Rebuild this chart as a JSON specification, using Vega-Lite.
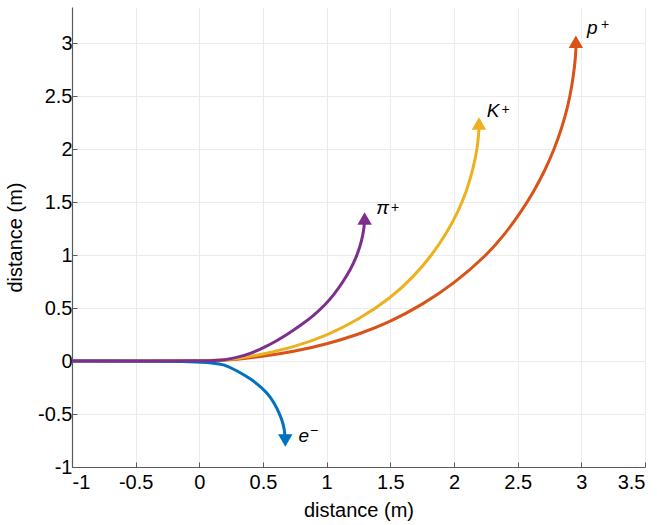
{
  "$schema": "https://vega.github.io/schema/vega-lite/v6.json",
  "width": 573,
  "height": 460,
  "autosize": "none",
  "padding": {"left": 72, "top": 7, "right": 12, "bottom": 58},
  "background": "white",
  "config": {
    "view": {"stroke": null},
    "axis": {
      "domainColor": "#5a5a5a",
      "domainWidth": 1.2,
      "tickColor": "#5a5a5a",
      "tickSize": -5,
      "gridColor": "#ebebeb",
      "gridWidth": 1,
      "labelFont": "Liberation Sans",
      "labelFontSize": 20,
      "labelColor": "#000000",
      "titleFont": "Liberation Sans",
      "titleFontSize": 20,
      "titleFontWeight": "normal",
      "titleColor": "#000000"
    }
  },
  "datasets": {
    "tracks": [
      {"series": "p", "i": 0, "x": -1, "y": 0},
      {"series": "p", "i": 1, "x": 0.1, "y": 0},
      {"series": "p", "i": 2, "x": 0.3, "y": 0.015},
      {"series": "p", "i": 3, "x": 0.5, "y": 0.045},
      {"series": "p", "i": 4, "x": 0.75, "y": 0.09},
      {"series": "p", "i": 5, "x": 1.0, "y": 0.16},
      {"series": "p", "i": 6, "x": 1.25, "y": 0.25},
      {"series": "p", "i": 7, "x": 1.5, "y": 0.37},
      {"series": "p", "i": 8, "x": 1.75, "y": 0.53},
      {"series": "p", "i": 9, "x": 2.0, "y": 0.73},
      {"series": "p", "i": 10, "x": 2.259, "y": 1.0},
      {"series": "p", "i": 11, "x": 2.401, "y": 1.2},
      {"series": "p", "i": 12, "x": 2.523, "y": 1.4},
      {"series": "p", "i": 13, "x": 2.627, "y": 1.6},
      {"series": "p", "i": 14, "x": 2.715, "y": 1.8},
      {"series": "p", "i": 15, "x": 2.788, "y": 2.0},
      {"series": "p", "i": 16, "x": 2.847, "y": 2.2},
      {"series": "p", "i": 17, "x": 2.894, "y": 2.4},
      {"series": "p", "i": 18, "x": 2.927, "y": 2.6},
      {"series": "p", "i": 19, "x": 2.949, "y": 2.8},
      {"series": "p", "i": 20, "x": 2.956, "y": 2.9},
      {"series": "p", "i": 21, "x": 2.959, "y": 3.0},
      {"series": "K", "i": 0, "x": -1, "y": 0},
      {"series": "K", "i": 1, "x": 0.1, "y": 0},
      {"series": "K", "i": 2, "x": 0.3, "y": 0.02},
      {"series": "K", "i": 3, "x": 0.5, "y": 0.065},
      {"series": "K", "i": 4, "x": 0.75, "y": 0.135},
      {"series": "K", "i": 5, "x": 1.0, "y": 0.24},
      {"series": "K", "i": 6, "x": 1.25, "y": 0.39},
      {"series": "K", "i": 7, "x": 1.5, "y": 0.59},
      {"series": "K", "i": 8, "x": 1.687, "y": 0.8},
      {"series": "K", "i": 9, "x": 1.827, "y": 1.0},
      {"series": "K", "i": 10, "x": 1.939, "y": 1.2},
      {"series": "K", "i": 11, "x": 2.029, "y": 1.4},
      {"series": "K", "i": 12, "x": 2.098, "y": 1.6},
      {"series": "K", "i": 13, "x": 2.148, "y": 1.8},
      {"series": "K", "i": 14, "x": 2.182, "y": 2.0},
      {"series": "K", "i": 15, "x": 2.195, "y": 2.15},
      {"series": "K", "i": 16, "x": 2.198, "y": 2.24},
      {"series": "e", "i": 0, "x": -1, "y": 0},
      {"series": "e", "i": 1, "x": 0.08, "y": 0},
      {"series": "e", "i": 2, "x": 0.2, "y": -0.035},
      {"series": "e", "i": 3, "x": 0.3, "y": -0.095},
      {"series": "e", "i": 4, "x": 0.4, "y": -0.165},
      {"series": "e", "i": 5, "x": 0.494, "y": -0.254},
      {"series": "e", "i": 6, "x": 0.56, "y": -0.34},
      {"series": "e", "i": 7, "x": 0.61, "y": -0.445},
      {"series": "e", "i": 8, "x": 0.648, "y": -0.55},
      {"series": "e", "i": 9, "x": 0.668, "y": -0.64},
      {"series": "e", "i": 10, "x": 0.675, "y": -0.74},
      {"series": "pi", "i": 0, "x": -1, "y": 0},
      {"series": "pi", "i": 1, "x": 0.1, "y": 0},
      {"series": "pi", "i": 2, "x": 0.2, "y": 0.01},
      {"series": "pi", "i": 3, "x": 0.3, "y": 0.035},
      {"series": "pi", "i": 4, "x": 0.4, "y": 0.07},
      {"series": "pi", "i": 5, "x": 0.5, "y": 0.122},
      {"series": "pi", "i": 6, "x": 0.6, "y": 0.185},
      {"series": "pi", "i": 7, "x": 0.7, "y": 0.258},
      {"series": "pi", "i": 8, "x": 0.8, "y": 0.34},
      {"series": "pi", "i": 9, "x": 0.9, "y": 0.432},
      {"series": "pi", "i": 10, "x": 0.98, "y": 0.52},
      {"series": "pi", "i": 11, "x": 1.06, "y": 0.63},
      {"series": "pi", "i": 12, "x": 1.13, "y": 0.75},
      {"series": "pi", "i": 13, "x": 1.19, "y": 0.87},
      {"series": "pi", "i": 14, "x": 1.232, "y": 0.98},
      {"series": "pi", "i": 15, "x": 1.262, "y": 1.08},
      {"series": "pi", "i": 16, "x": 1.283, "y": 1.18},
      {"series": "pi", "i": 17, "x": 1.295, "y": 1.27},
      {"series": "pi", "i": 18, "x": 1.299, "y": 1.34}
    ],
    "heads": [
      {"series": "p", "x": 2.957, "y": 3.012},
      {"series": "K", "x": 2.196, "y": 2.241},
      {"series": "e", "x": 0.675, "y": -0.75},
      {"series": "pi", "x": 1.298, "y": 1.344}
    ],
    "labels": [
      {"label": "p", "x": 3.045, "y": 3.082},
      {"label": "K", "x": 2.257, "y": 2.302},
      {"label": "e", "x": 0.779, "y": -0.764},
      {"label": "π", "x": 1.389, "y": 1.384}
    ],
    "supers": [
      {"label": "+", "x": 3.155, "y": 3.13},
      {"label": "+", "x": 2.373, "y": 2.327},
      {"label": "−", "x": 0.87, "y": -0.696},
      {"label": "+", "x": 1.505, "y": 1.406}
    ]
  },
  "layer": [
    {
      "data": {"name": "tracks"},
      "mark": {"type": "line", "strokeWidth": 3, "strokeCap": "butt", "interpolate": "basis"},
      "encoding": {
        "x": {
          "field": "x", "type": "quantitative",
          "scale": {"domain": [-1, 3.5], "nice": false, "zero": false},
          "axis": {
            "values": [-1, -0.5, 0, 0.5, 1, 1.5, 2, 2.5, 3, 3.5],
            "labelExpr": "datum.value < 0 ? '-' + format(-datum.value, '~g') : format(datum.value, '~g')",
            "labelPadding": 10,
            "titlePadding": 8
          },
          "title": "distance (m)"
        },
        "y": {
          "field": "y", "type": "quantitative",
          "scale": {"domain": [-1, 3.34], "nice": false, "zero": false},
          "axis": {
            "values": [-1, -0.5, 0, 0.5, 1, 1.5, 2, 2.5, 3],
            "labelExpr": "datum.value < 0 ? '-' + format(-datum.value, '~g') : format(datum.value, '~g')",
            "labelPadding": 5,
            "titlePadding": 12
          },
          "title": "distance (m)"
        },
        "color": {
          "field": "series", "type": "nominal",
          "scale": {"domain": ["p", "K", "e", "pi"], "range": ["#D95319", "#EDB120", "#0072BD", "#7E2F8E"]},
          "legend": null
        },
        "order": {"field": "i", "type": "quantitative"}
      }
    },
    {
      "data": {"name": "heads"},
      "mark": {"type": "point", "filled": true, "opacity": 1, "size": 210},
      "encoding": {
        "x": {"field": "x", "type": "quantitative"},
        "y": {"field": "y", "type": "quantitative"},
        "color": {"field": "series", "type": "nominal", "legend": null},
        "shape": {
          "field": "series", "type": "nominal",
          "scale": {"domain": ["p", "K", "e", "pi"], "range": ["triangle-up", "triangle-up", "triangle-down", "triangle-up"]},
          "legend": null
        }
      }
    },
    {
      "data": {"name": "labels"},
      "mark": {"type": "text", "font": "Liberation Sans", "fontStyle": "italic", "fontSize": 19, "align": "left", "baseline": "alphabetic", "color": "#000000"},
      "encoding": {
        "x": {"field": "x", "type": "quantitative"},
        "y": {"field": "y", "type": "quantitative"},
        "text": {"field": "label"}
      }
    },
    {
      "data": {"name": "supers"},
      "mark": {"type": "text", "font": "Liberation Sans", "fontSize": 14, "align": "left", "baseline": "alphabetic", "color": "#000000"},
      "encoding": {
        "x": {"field": "x", "type": "quantitative"},
        "y": {"field": "y", "type": "quantitative"},
        "text": {"field": "label"}
      }
    }
  ]
}
